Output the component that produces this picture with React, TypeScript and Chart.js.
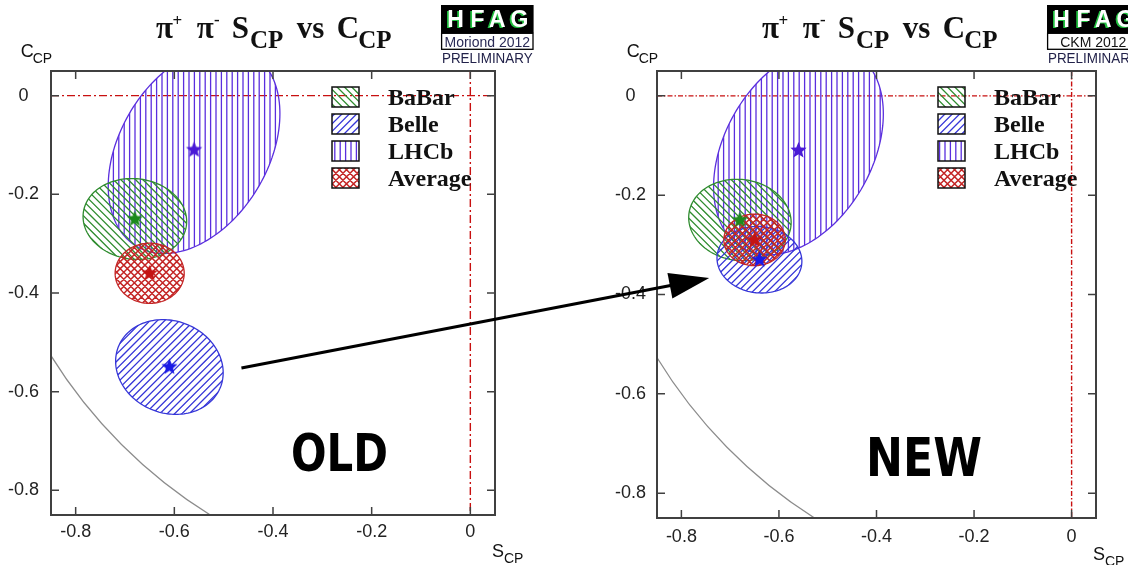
import React, { useEffect, useRef } from "react";
import { Chart, registerables } from "chart.js";

Chart.register(...registerables);

// ---------------- DATA ----------------
const experiments = ["BaBar", "Belle", "LHCb", "Average"];

const xTickValues = [-0.8, -0.6, -0.4, -0.2, 0];
const yTickValues = [0, -0.2, -0.4, -0.6, -0.8];
const sRange = [-0.85, 0.05];
const cRange = [-0.85, 0.05];

// OLD: Moriond 2012
const oldS = [-0.68, -0.61, -0.56, -0.65];
const oldC = [-0.25, -0.55, -0.11, -0.36];
const oldSErr = [0.105, 0.109, 0.174, 0.07];
const oldCErr = [0.082, 0.096, 0.21, 0.061];
const oldCorr = [-0.06, -0.12, 0.35, 0.0];

// NEW: CKM 2012
const newS = [-0.68, -0.64, -0.56, -0.65];
const newC = [-0.25, -0.33, -0.11, -0.29];
const newSErr = [0.105, 0.087, 0.174, 0.063];
const newCErr = [0.082, 0.067, 0.21, 0.052];
const newCorr = [-0.06, -0.05, 0.35, 0.0];

// physical boundary S^2 + C^2 = 1
const boundaryRadius = 1;

// arrow from the OLD panel (start) to the NEW panel (tip), in data coords
const arrowFrom = { S: -0.464, C: -0.552 };
const arrowTo = { S: -0.743, C: -0.367 };

// ---------------- STYLES ----------------
const expColors = ["#2f8c2f", "#3636d8", "#5a2ede", "#c42626"];
const starColors = ["#1c8a1c", "#1a1ae6", "#4a1ad6", "#c41414"];
const expHatch = ["back", "fwd", "vert", "cross"];
const drawOrder = [2, 0, 1, 3];

const SANS = '"Liberation Sans", Arial, Helvetica, sans-serif';
const SERIF = '"Liberation Serif", "Times New Roman", serif';

const titlePieces = [
  { t: "\u03C0", dx: 105, dy: 38.3, size: 31 },
  { t: "+", dx: 121.5, dy: 26, size: 17 },
  { t: "\u03C0", dx: 145.7, dy: 38.3, size: 31 },
  { t: "-", dx: 163, dy: 25, size: 17 },
  { t: "S", dx: 180.7, dy: 38.3, size: 31 },
  { t: "CP", dx: 199, dy: 48.3, size: 25 },
  { t: "vs", dx: 245.7, dy: 38.3, size: 31 },
  { t: "C", dx: 285.7, dy: 38.3, size: 31 },
  { t: "CP", dx: 307.3, dy: 48.3, size: 25 },
];

const panels = [
  {
    key: "old",
    S: oldS, C: oldC, sS: oldSErr, sC: oldCErr, rho: oldCorr,
    conf: "Moriond 2012", confColor: "#2a2a55",
    stamp: "OLD",
    pad: { left: 0, right: 633, top: 71, bottom: 10 },
    yWidth: 51,
    xPad: 6, yPad: 12,
    dash: [8, 3, 2, 3],
    stampPos: { x: 291, y: 471, w: 97, size: 52 },
  },
  {
    key: "new",
    S: newS, C: newC, sS: newSErr, sC: newCErr, rho: newCorr,
    conf: "CKM 2012", confColor: "#111111",
    stamp: "NEW",
    pad: { left: 606, right: 32, top: 71, bottom: 7 },
    yWidth: 51,
    xPad: 8, yPad: 11,
    dash: [5, 2, 1.5, 2],
    stampPos: { x: 866, y: 476, w: 116, size: 53 },
  },
];

// ---------------- HELPERS ----------------
function fmt(v: number) {
  if (Math.abs(v) < 1e-9) return "0";
  return String(Math.round(v * 10) / 10);
}

function makeStar(color: string, r = 8.5) {
  const c = document.createElement("canvas");
  const s = Math.ceil(r * 2 + 2);
  c.width = s;
  c.height = s;
  const g = c.getContext("2d")!;
  g.fillStyle = color;
  g.beginPath();
  for (let i = 0; i < 10; i++) {
    const ang = -Math.PI / 2 + (i * Math.PI) / 5;
    const rr = i % 2 ? r * 0.45 : r;
    const px = s / 2 + rr * Math.cos(ang);
    const py = s / 2 + rr * Math.sin(ang);
    if (i === 0) g.moveTo(px, py);
    else g.lineTo(px, py);
  }
  g.closePath();
  g.fill();
  return c;
}

function hatchLines(ctx: CanvasRenderingContext2D, kind: string, x0: number, y0: number, x1: number, y1: number, sp: number) {
  ctx.beginPath();
  if (kind === "vert") {
    const start = Math.floor(x0 / sp) * sp;
    for (let x = start; x <= x1; x += sp) {
      ctx.moveTo(x, y0);
      ctx.lineTo(x, y1);
    }
  } else {
    const d = sp * Math.SQRT2;
    if (kind === "fwd" || kind === "cross") {
      const cMin = x0 + y0, cMax = x1 + y1;
      for (let c = Math.floor(cMin / d) * d; c <= cMax; c += d) {
        ctx.moveTo(c - y0, y0);
        ctx.lineTo(c - y1, y1);
      }
    }
    if (kind === "back" || kind === "cross") {
      const cMin = x0 - y1, cMax = x1 - y0;
      for (let c = Math.floor(cMin / d) * d; c <= cMax; c += d) {
        ctx.moveTo(c + y0, y0);
        ctx.lineTo(c + y1, y1);
      }
    }
  }
  ctx.stroke();
}

function hatchStyle(ctx: CanvasRenderingContext2D, i: number) {
  ctx.strokeStyle = expColors[i];
  ctx.lineWidth = expHatch[i] === "cross" ? 1.5 : 1.3;
  return expHatch[i] === "cross" ? 5 : expHatch[i] === "vert" ? 5.4 : 5.2;
}

function ellipsePoints(xs: any, ys: any, cx: number, cy: number, a: number, b: number, rho: number) {
  const pts: [number, number][] = [];
  const r2 = Math.sqrt(1 - rho * rho);
  const N = 160;
  for (let k = 0; k <= N; k++) {
    const t = (k / N) * Math.PI * 2;
    const x = cx + a * Math.cos(t);
    const y = cy + b * (rho * Math.cos(t) + r2 * Math.sin(t));
    pts.push([xs.getPixelForValue(x), ys.getPixelForValue(y)]);
  }
  return pts;
}

function pathFrom(ctx: CanvasRenderingContext2D, pts: [number, number][]) {
  ctx.beginPath();
  pts.forEach(([x, y], k) => (k ? ctx.lineTo(x, y) : ctx.moveTo(x, y)));
  ctx.closePath();
}

function makePlugin(p: any, charts: Chart[]) {
  return {
    id: "panel-" + p.key,
    beforeDatasetsDraw(chart: any) {
      const { ctx, chartArea: a, scales } = chart;
      const xs = scales.x, ys = scales.y;
      ctx.save();
      ctx.beginPath();
      ctx.rect(a.left, a.top, a.right - a.left, a.bottom - a.top);
      ctx.clip();

      // physical boundary
      const x0 = xs.getPixelForValue(0), y0 = ys.getPixelForValue(0);
      const rx = Math.abs(xs.getPixelForValue(boundaryRadius) - x0);
      const ry = Math.abs(ys.getPixelForValue(boundaryRadius) - y0);
      ctx.strokeStyle = "#8c8c8c";
      ctx.lineWidth = 1.2;
      ctx.beginPath();
      ctx.ellipse(x0, y0, rx, ry, 0, 0, Math.PI * 2);
      ctx.stroke();

      // zero lines
      ctx.strokeStyle = "#c81010";
      ctx.lineWidth = 1.4;
      ctx.setLineDash(p.dash);
      ctx.beginPath();
      ctx.moveTo(a.left, y0);
      ctx.lineTo(a.right, y0);
      ctx.moveTo(x0, a.top);
      ctx.lineTo(x0, a.bottom);
      ctx.stroke();
      ctx.setLineDash([]);

      // ellipses
      for (const i of drawOrder) {
        const pts = ellipsePoints(xs, ys, p.S[i], p.C[i], p.sS[i], p.sC[i], p.rho[i]);
        let mx0 = Infinity, my0 = Infinity, mx1 = -Infinity, my1 = -Infinity;
        pts.forEach(([x, y]) => {
          mx0 = Math.min(mx0, x); my0 = Math.min(my0, y);
          mx1 = Math.max(mx1, x); my1 = Math.max(my1, y);
        });
        ctx.save();
        pathFrom(ctx, pts);
        ctx.clip();
        const sp = hatchStyle(ctx, i);
        hatchLines(ctx, expHatch[i], mx0 - 2, my0 - 2, mx1 + 2, my1 + 2, sp);
        ctx.restore();
        pathFrom(ctx, pts);
        ctx.strokeStyle = expColors[i];
        ctx.lineWidth = 1.3;
        ctx.stroke();
      }
      ctx.restore();
    },
    afterDraw(chart: any) {
      const { ctx, chartArea: a, scales } = chart;
      const xs = scales.x, ys = scales.y;
      ctx.save();

      // frame + inward ticks
      ctx.strokeStyle = "#404040";
      ctx.lineWidth = 2;
      ctx.strokeRect(a.left, a.top, a.right - a.left, a.bottom - a.top);
      ctx.lineWidth = 1.5;
      ctx.beginPath();
      for (const v of xTickValues) {
        const px = xs.getPixelForValue(v);
        ctx.moveTo(px, a.bottom); ctx.lineTo(px, a.bottom - 8);
        ctx.moveTo(px, a.top); ctx.lineTo(px, a.top + 8);
      }
      for (const v of yTickValues) {
        const py = ys.getPixelForValue(v);
        ctx.moveTo(a.left, py); ctx.lineTo(a.left + 8, py);
        ctx.moveTo(a.right, py); ctx.lineTo(a.right - 8, py);
      }
      ctx.stroke();

      // legend
      experiments.forEach((name, i) => {
        const bx = a.left + 281, by = a.top + 16 + i * 27, bw = 27, bh = 20;
        ctx.save();
        ctx.beginPath();
        ctx.rect(bx, by, bw, bh);
        ctx.clip();
        const sp = hatchStyle(ctx, i);
        hatchLines(ctx, expHatch[i], bx - 2, by - 2, bx + bw + 2, by + bh + 2, sp);
        ctx.restore();
        ctx.strokeStyle = "#111";
        ctx.lineWidth = 1.5;
        ctx.strokeRect(bx, by, bw, bh);
        ctx.fillStyle = "#111";
        ctx.font = `bold 24px ${SERIF}`;
        ctx.textAlign = "left";
        ctx.textBaseline = "alphabetic";
        ctx.fillText(name, a.left + 337, by + 18);
      });

      // title
      ctx.fillStyle = "#111";
      ctx.textAlign = "left";
      ctx.textBaseline = "alphabetic";
      for (const piece of titlePieces) {
        ctx.font = `bold ${piece.size}px ${SERIF}`;
        ctx.fillText(piece.t, a.left + piece.dx, piece.dy);
      }

      // axis titles
      ctx.font = `18px ${SANS}`;
      ctx.fillText("C", a.left - 30.3, 56.7);
      ctx.font = `14px ${SANS}`;
      ctx.fillText("CP", a.left - 18.3, 63.3);
      ctx.font = `18px ${SANS}`;
      ctx.fillText("S", a.right - 3, a.bottom + 42);
      ctx.font = `14px ${SANS}`;
      ctx.fillText("CP", a.right + 9, a.bottom + 48);

      // HFAG logo
      const lx = a.left + 390, lw = 92.6;
      ctx.fillStyle = "#000";
      ctx.fillRect(lx, 5, lw, 28.3);
      ctx.font = `bold 23px ${SANS}`;
      const letters = [["H", 6], ["F", 29.3], ["A", 47.6], ["G", 69.3]];
      for (const [ch, dx] of letters as [string, number][]) {
        ctx.fillStyle = "#22c040";
        ctx.fillText(ch, lx + dx - 1.5, 28);
        ctx.fillStyle = "#ffffff";
        ctx.fillText(ch, lx + dx + 0.3, 27.3);
      }
      ctx.fillStyle = "#fff";
      ctx.fillRect(lx, 33.3, lw, 16);
      ctx.strokeStyle = "#000";
      ctx.lineWidth = 1.3;
      ctx.strokeRect(lx + 0.6, 33.3, lw - 1.2, 16);
      ctx.fillStyle = p.confColor;
      ctx.font = `14px ${SANS}`;
      ctx.textAlign = "center";
      ctx.fillText(p.conf, lx + lw / 2, 46.5, lw - 6);
      ctx.font = `15px ${SANS}`;
      ctx.fillStyle = "#22224a";
      ctx.fillText("PRELIMINARY", lx + lw / 2, 63.3, lw - 2);

      // OLD / NEW stamp
      const sp = p.stampPos;
      ctx.font = `bold ${sp.size}px "DejaVu Sans", sans-serif`;
      ctx.textAlign = "left";
      ctx.fillStyle = "#000";
      const m = ctx.measureText(p.stamp).width;
      ctx.save();
      ctx.translate(sp.x, sp.y);
      ctx.scale(sp.w / m, 1);
      ctx.fillText(p.stamp, 0, 0);
      ctx.restore();

      // arrow (drawn on top, from OLD panel into NEW panel)
      if (p.key === "new" && charts[0]) {
        const left: any = charts[0];
        const sx = left.scales.x.getPixelForValue(arrowFrom.S);
        const sy = left.scales.y.getPixelForValue(arrowFrom.C);
        const tx = xs.getPixelForValue(arrowTo.S);
        const ty = ys.getPixelForValue(arrowTo.C);
        const ang = Math.atan2(ty - sy, tx - sx);
        const L = 40, hw = 13;
        const c = Math.cos(ang), s = Math.sin(ang);
        const bx = tx - L * c, by = ty - L * s;
        ctx.strokeStyle = "#000";
        ctx.lineWidth = 3.2;
        ctx.beginPath();
        ctx.moveTo(sx, sy);
        ctx.lineTo(bx + 2 * c, by + 2 * s);
        ctx.stroke();
        ctx.fillStyle = "#000";
        ctx.beginPath();
        ctx.moveTo(tx, ty);
        ctx.lineTo(bx - hw * s, by + hw * c);
        ctx.lineTo(bx + hw * s, by - hw * c);
        ctx.closePath();
        ctx.fill();
      }

      ctx.restore();
    },
  };
}

function buildConfig(p: any, charts: Chart[], stars: HTMLCanvasElement[]): any {
  const tickFont = { family: SANS, size: 18 };
  return {
    type: "scatter",
    data: {
      datasets: experiments.map((name, i) => ({
        label: name,
        data: [{ x: p.S[i], y: p.C[i] }],
        pointStyle: stars[i],
        pointRadius: 9,
        showLine: false,
      })),
    },
    options: {
      responsive: false,
      animation: false,
      events: [],
      layout: { padding: p.pad },
      plugins: { legend: { display: false }, tooltip: { enabled: false }, title: { display: false } },
      scales: {
        x: {
          type: "linear",
          min: sRange[0],
          max: sRange[1],
          afterBuildTicks: (s: any) => {
            s.ticks = xTickValues.map((v) => ({ value: v }));
          },
          afterFit: (s: any) => {
            s.height = 40;
          },
          ticks: {
            callback: (v: any) => fmt(Number(v)),
            font: tickFont,
            color: "#222",
            padding: p.xPad,
            autoSkip: false,
            maxRotation: 0,
          },
          grid: { display: false, drawTicks: false },
          border: { display: false },
        },
        y: {
          type: "linear",
          min: cRange[0],
          max: cRange[1],
          afterBuildTicks: (s: any) => {
            s.ticks = yTickValues.map((v) => ({ value: v }));
          },
          afterFit: (s: any) => {
            s.width = p.yWidth;
          },
          ticks: {
            callback: (v: any) => fmt(Number(v)),
            font: tickFont,
            color: "#222",
            padding: p.yPad,
            crossAlign: "center",
            autoSkip: false,
          },
          grid: { display: false, drawTicks: false },
          border: { display: false },
        },
      },
    },
    plugins: [makePlugin(p, charts)],
  };
}

export default function App() {
  const oldRef = useRef<HTMLCanvasElement>(null);
  const newRef = useRef<HTMLCanvasElement>(null);

  useEffect(() => {
    const stars = starColors.map((c) => makeStar(c));
    const charts: Chart[] = [];
    const refs = [oldRef, newRef];
    panels.forEach((p, k) => {
      const canvas = refs[k].current;
      if (!canvas) return;
      charts.push(new Chart(canvas, buildConfig(p, charts, stars)));
    });
    return () => {
      charts.forEach((c) => c.destroy());
    };
  }, []);

  const canvasStyle: React.CSSProperties = {
    position: "absolute",
    left: 0,
    top: 0,
    width: 1128,
    height: 565,
  };

  return (
    <div
      style={{
        position: "fixed",
        left: 0,
        top: 0,
        width: 1128,
        height: 565,
        background: "#fff",
        overflow: "hidden",
      }}
    >
      <canvas ref={oldRef} width={1128} height={565} style={canvasStyle} />
      <canvas ref={newRef} width={1128} height={565} style={canvasStyle} />
    </div>
  );
}
